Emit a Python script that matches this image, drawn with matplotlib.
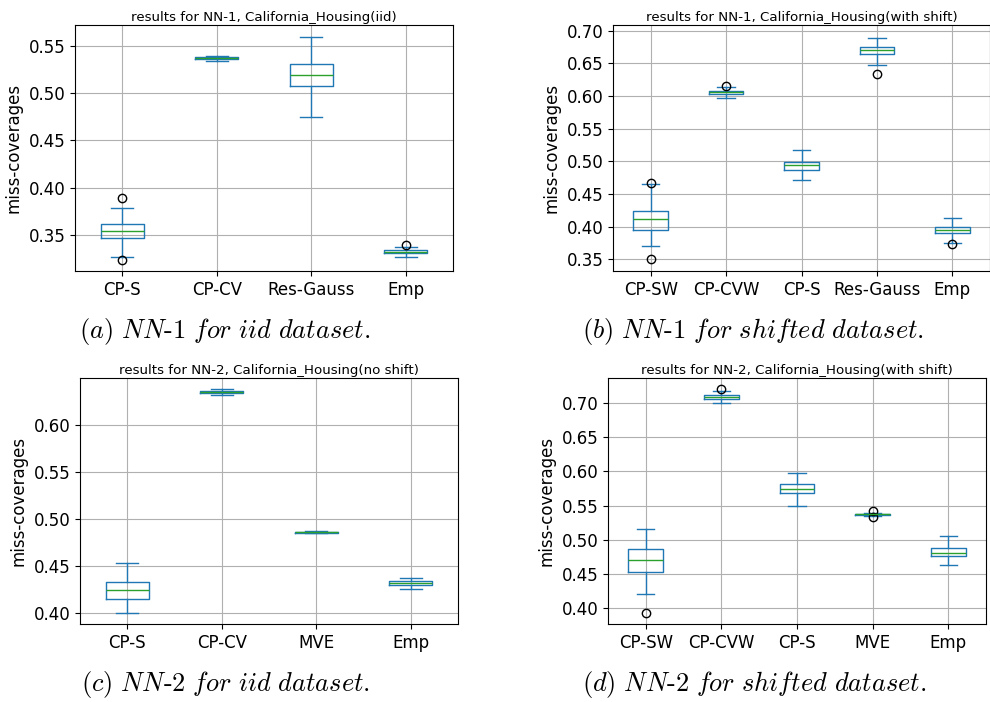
import matplotlib
matplotlib.use("Agg")
import matplotlib.pyplot as plt

plt.rcParams['mathtext.fontset'] = 'cm'
plt.rcParams['font.family'] = ['DejaVu Sans']

# ---- data (box statistics) ----
# panel a
a_labels = ["CP-S", "CP-CV", "Res-Gauss", "Emp"]
a_whislo = [0.3267, 0.5338, 0.4746, 0.3267]
a_q1 = [0.3468, 0.5356, 0.5070, 0.3306]
a_med = [0.3540, 0.5366, 0.5190, 0.3320]
a_q3 = [0.3620, 0.5377, 0.5303, 0.3342]
a_whishi = [0.3790, 0.5394, 0.5592, 0.3377]
a_fliers = [[0.389, 0.3236], [], [], [0.340]]

# panel b
b_labels = ["CP-SW", "CP-CVW", "CP-S", "Res-Gauss", "Emp"]
b_whislo = [0.3707, 0.5975, 0.4714, 0.6469, 0.3748]
b_q1 = [0.3955, 0.6035, 0.4860, 0.6636, 0.3895]
b_med = [0.4117, 0.6060, 0.4936, 0.6707, 0.3945]
b_q3 = [0.4233, 0.6080, 0.4987, 0.6752, 0.3986]
b_whishi = [0.4648, 0.6130, 0.5174, 0.6884, 0.4127]
b_fliers = [[0.4674, 0.350], [0.615], [], [0.6337], [0.3733]]

# panel c
c_labels = ["CP-S", "CP-CV", "MVE", "Emp"]
c_whislo = [0.4004, 0.6319, 0.4846, 0.4251]
c_q1 = [0.4149, 0.6336, 0.4850, 0.4297]
c_med = [0.4240, 0.6347, 0.4857, 0.4315]
c_q3 = [0.4329, 0.6358, 0.4864, 0.4336]
c_whishi = [0.4527, 0.6375, 0.4874, 0.4368]
c_fliers = [[], [], [], []]

# panel d
d_labels = ["CP-SW", "CP-CVW", "CP-S", "MVE", "Emp"]
d_whislo = [0.4214, 0.7000, 0.5495, 0.5354, 0.4628]
d_q1 = [0.4531, 0.7063, 0.5685, 0.5364, 0.4760]
d_med = [0.4706, 0.7088, 0.5744, 0.5373, 0.4813]
d_q3 = [0.4862, 0.7117, 0.5817, 0.5378, 0.4882]
d_whishi = [0.5159, 0.7180, 0.5972, 0.5388, 0.5052]
d_fliers = [[0.3937], [0.720], [], [0.5420, 0.5335], []]

titles = ["results for NN-1, California_Housing(iid)",
          "results for NN-1, California_Housing(with shift)",
          "results for NN-2, California_Housing(no shift)",
          "results for NN-2, California_Housing(with shift)"]
captions = [r"$(a)\ \mathit{NN\text{-}1\ for\ iid\ dataset.}$",
            r"$(b)\ \mathit{NN\text{-}1\ for\ shifted\ dataset.}$",
            r"$(c)\ \mathit{NN\text{-}2\ for\ iid\ dataset.}$",
            r"$(d)\ \mathit{NN\text{-}2\ for\ shifted\ dataset.}$"]
yticks = [[0.35, 0.40, 0.45, 0.50, 0.55],
          [0.35, 0.40, 0.45, 0.50, 0.55, 0.60, 0.65, 0.70],
          [0.40, 0.45, 0.50, 0.55, 0.60],
          [0.40, 0.45, 0.50, 0.55, 0.60, 0.65, 0.70]]
ylims = [(0.312, 0.572), (0.332, 0.7085), (0.3883, 0.6496), (0.3771, 0.7365)]

panels = [
    (a_labels, a_whislo, a_q1, a_med, a_q3, a_whishi, a_fliers),
    (b_labels, b_whislo, b_q1, b_med, b_q3, b_whishi, b_fliers),
    (c_labels, c_whislo, c_q1, c_med, c_q3, c_whishi, c_fliers),
    (d_labels, d_whislo, d_q1, d_med, d_q3, d_whishi, d_fliers),
]

W, H = 990, 702
fig = plt.figure(figsize=(W / 100, H / 100), dpi=100)

# axes rectangles in pixels (left, top, right, bottom)
rects = [(75, 25, 453, 271), (613, 25, 990, 271),
         (80, 378, 458, 624), (608, 378, 986, 624)]
cap_pos = [(225, 332), (753, 332), (225, 684), (754, 684)]

for i, (labels, wlo, q1, med, q3, whi, fl) in enumerate(panels):
    l, t, r, b = rects[i]
    ax = fig.add_axes([l / W, 1 - b / H, (r - l) / W, (b - t) / H])
    stats = []
    for j, lab in enumerate(labels):
        stats.append(dict(label=lab, whislo=wlo[j], q1=q1[j], med=med[j],
                          q3=q3[j], whishi=whi[j], fliers=fl[j]))
    ax.bxp(stats, widths=0.46, showfliers=True,
           boxprops=dict(color="#1f77b4", linewidth=1),
           whiskerprops=dict(color="#1f77b4", linewidth=1),
           capprops=dict(color="#1f77b4", linewidth=1),
           medianprops=dict(color="#2ca02c", linewidth=1),
           flierprops=dict(marker="o", markerfacecolor="none",
                           markeredgecolor="black", markersize=6))
    ax.set_xlim(0.5, len(labels) + 0.5)
    ax.set_ylim(*ylims[i])
    ax.set_yticks(yticks[i])
    ax.grid(True, color="#b0b0b0", linewidth=0.8)
    ax.set_axisbelow(True)
    ax.tick_params(labelsize=12)
    ax.set_ylabel("miss-coverages", fontsize=12)
    ax.set_title(titles[i], fontsize=9.6, pad=3)
    cx, cy = cap_pos[i]
    fig.text(cx / W, 1 - cy / H, captions[i], fontsize=19,
             ha="center", va="center")

fig.savefig("out.png", dpi=100)
